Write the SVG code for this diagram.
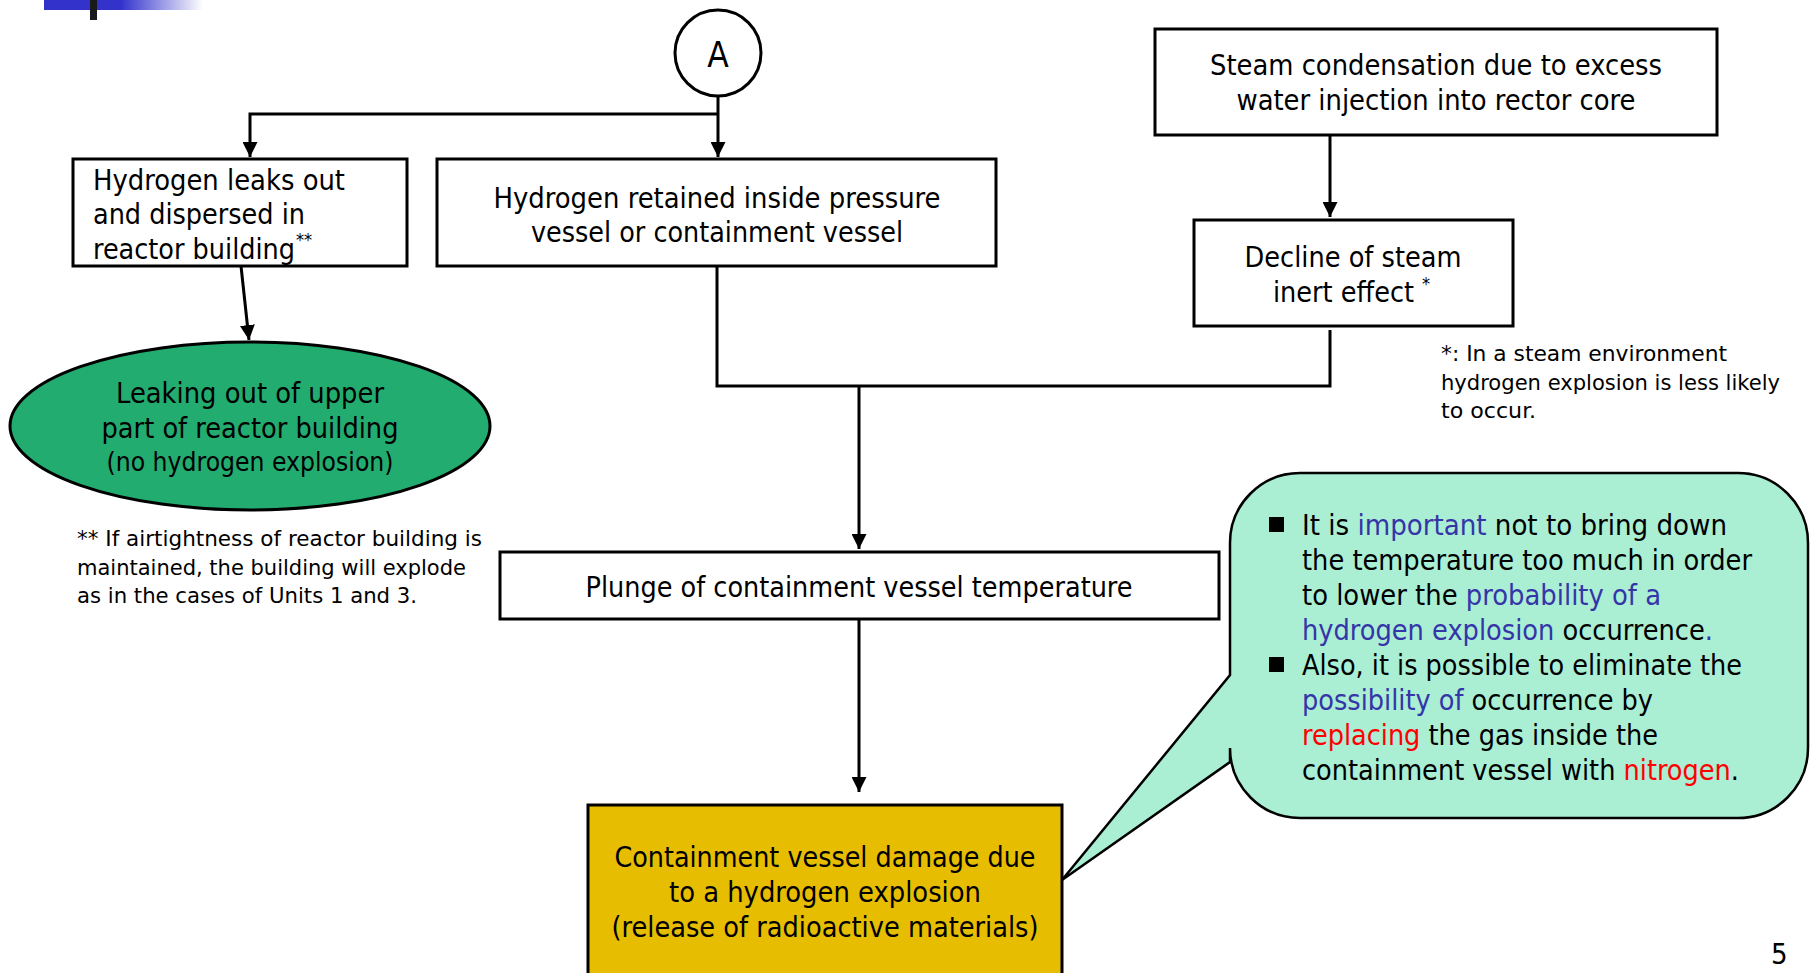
<svg xmlns="http://www.w3.org/2000/svg" width="1810" height="973" viewBox="0 0 1810 973">
<defs>
<style>
text{font-family:"DejaVu Sans Condensed","DejaVu Sans",sans-serif;font-stretch:condensed;fill:#000}
.m{font-size:29px}
.c{text-anchor:middle}
.fn{font-size:22px}
.sup{font-size:18px}
.box{fill:#fff;stroke:#000;stroke-width:3}
.ln{fill:none;stroke:#000;stroke-width:3}
.b{fill:#3535A8}
.r{fill:#FF0000}
</style>
<marker id="ah" viewBox="0 0 10 10" refX="10" refY="5" markerWidth="15" markerHeight="15" markerUnits="userSpaceOnUse" orient="auto">
<path d="M0,0 L10,5 L0,10 z" fill="#000"/>
</marker>
<linearGradient id="lg" x1="0" x2="1" y1="0" y2="0">
<stop offset="0" stop-color="#3333CC"/>
<stop offset="1" stop-color="#3333CC" stop-opacity="0"/>
</linearGradient>
</defs>
<rect width="1810" height="973" fill="#fff"/>
<g id="logo">
<rect x="44" y="0" width="78" height="10" fill="#3333CC"/>
<rect x="121" y="0" width="82" height="10" fill="url(#lg)"/>
<rect x="90" y="0" width="7" height="20" fill="#1a1a1a"/>
</g>
<g id="connectors">
<path class="ln" d="M718,96 V157" marker-end="url(#ah)"/>
<path class="ln" d="M718,114 H250 V157" marker-end="url(#ah)"/>
<path class="ln" d="M241,266 L249,340" marker-end="url(#ah)"/>
<path class="ln" d="M1330,135 V217" marker-end="url(#ah)"/>
<path class="ln" d="M717,266 V386 H1330 V330"/>
<path class="ln" d="M859,386 V549" marker-end="url(#ah)"/>
<path class="ln" d="M859,619 V792" marker-end="url(#ah)"/>
</g>
<g id="nodeA">
<circle cx="718" cy="53" r="43" fill="#fff" stroke="#000" stroke-width="3"/>
<text x="718" y="67" class="c" font-size="35">A</text>
</g>
<g id="leaks">
<rect class="box" x="73" y="159" width="334" height="107"/>
<text class="m" x="93" y="190" textLength="252" lengthAdjust="spacingAndGlyphs">Hydrogen leaks out</text>
<text class="m" x="93" y="224" textLength="212" lengthAdjust="spacingAndGlyphs">and dispersed in</text>
<text class="m" x="93" y="259" textLength="202" lengthAdjust="spacingAndGlyphs">reactor building</text>
<text class="sup" x="296" y="246">**</text>
</g>
<g id="retained">
<rect class="box" x="437" y="159" width="559" height="107"/>
<text class="m c" x="717" y="208" textLength="447" lengthAdjust="spacingAndGlyphs">Hydrogen retained inside pressure</text>
<text class="m c" x="717" y="242" textLength="372" lengthAdjust="spacingAndGlyphs">vessel or containment vessel</text>
</g>
<g id="condensation">
<rect class="box" x="1155" y="29" width="562" height="106"/>
<text class="m c" x="1436" y="75" textLength="452" lengthAdjust="spacingAndGlyphs">Steam condensation due to excess</text>
<text class="m c" x="1436" y="110" textLength="399" lengthAdjust="spacingAndGlyphs">water injection into rector core</text>
</g>
<g id="decline">
<rect class="box" x="1194" y="220" width="319" height="106"/>
<text class="m c" x="1353" y="267" textLength="217" lengthAdjust="spacingAndGlyphs">Decline of steam</text>
<text class="m" x="1273" y="302" textLength="141" lengthAdjust="spacingAndGlyphs">inert effect</text>
<text class="sup" x="1422" y="290">*</text>
</g>
<g id="note-steam">
<text class="fn" x="1441" y="361" textLength="286" lengthAdjust="spacingAndGlyphs">*: In a steam environment</text>
<text class="fn" x="1441" y="390" textLength="339" lengthAdjust="spacingAndGlyphs">hydrogen explosion is less likely</text>
<text class="fn" x="1441" y="418" textLength="95" lengthAdjust="spacingAndGlyphs">to occur.</text>
</g>
<g id="leakingout">
<ellipse cx="250" cy="426" rx="240" ry="84" fill="#23AC70" stroke="#000" stroke-width="3"/>
<text class="m c" x="250" y="403" textLength="268" lengthAdjust="spacingAndGlyphs">Leaking out of upper</text>
<text class="m c" x="250" y="438" textLength="297" lengthAdjust="spacingAndGlyphs">part of reactor building</text>
<text class="c" font-size="26" x="250" y="471" textLength="287" lengthAdjust="spacingAndGlyphs">(no hydrogen explosion)</text>
</g>
<g id="note-air">
<text class="fn" x="77" y="546" textLength="405" lengthAdjust="spacingAndGlyphs">** If airtightness of reactor building is</text>
<text class="fn" x="77" y="575" textLength="389" lengthAdjust="spacingAndGlyphs">maintained, the building will explode</text>
<text class="fn" x="77" y="603" textLength="340" lengthAdjust="spacingAndGlyphs">as in the cases of Units 1 and 3.</text>
</g>
<g id="plunge">
<rect class="box" x="500" y="552" width="719" height="67"/>
<text class="m c" x="859" y="597" textLength="547" lengthAdjust="spacingAndGlyphs">Plunge of containment vessel temperature</text>
</g>
<g id="damage">
<rect x="588" y="805" width="474" height="180" fill="#E6BD00" stroke="#000" stroke-width="3"/>
<text class="m c" x="825" y="867" textLength="421" lengthAdjust="spacingAndGlyphs">Containment vessel damage due</text>
<text class="m c" x="825" y="902" textLength="312" lengthAdjust="spacingAndGlyphs">to a hydrogen explosion</text>
<text class="m c" x="825" y="937" textLength="427" lengthAdjust="spacingAndGlyphs">(release of radioactive materials)</text>
</g>
<g id="callout">
<path d="M1300,473 H1738 A70,70 0 0 1 1808,543 V748 A70,70 0 0 1 1738,818 H1300 A70,70 0 0 1 1230,748 V762 L1062,880 L1230,675 V543 A70,70 0 0 1 1300,473 Z" fill="#AAEED4" stroke="#000" stroke-width="2.5" stroke-linejoin="miter"/>
<rect x="1269" y="517" width="15" height="15" fill="#000"/>
<rect x="1269" y="657" width="15" height="15" fill="#000"/>
<text class="m" x="1302" y="535" textLength="425" lengthAdjust="spacingAndGlyphs">It is <tspan class="b">important</tspan> not to bring down</text>
<text class="m" x="1302" y="570" textLength="450" lengthAdjust="spacingAndGlyphs">the temperature too much in order</text>
<text class="m" x="1302" y="605" textLength="359" lengthAdjust="spacingAndGlyphs">to lower the <tspan class="b">probability of a</tspan></text>
<text class="m" x="1302" y="640" textLength="411" lengthAdjust="spacingAndGlyphs"><tspan class="b">hydrogen explosion</tspan> occurrence<tspan class="b">.</tspan></text>
<text class="m" x="1302" y="675" textLength="440" lengthAdjust="spacingAndGlyphs">Also, it is possible to eliminate the</text>
<text class="m" x="1302" y="710" textLength="351" lengthAdjust="spacingAndGlyphs"><tspan class="b">possibility of</tspan> occurrence by</text>
<text class="m" x="1302" y="745" textLength="356" lengthAdjust="spacingAndGlyphs"><tspan class="r">replacing</tspan> the gas inside the</text>
<text class="m" x="1302" y="780" textLength="437" lengthAdjust="spacingAndGlyphs">containment vessel with <tspan class="r">nitrogen</tspan>.</text>
</g>
<g id="page">
<text class="m" x="1771" y="964">5</text>
</g>
</svg>
